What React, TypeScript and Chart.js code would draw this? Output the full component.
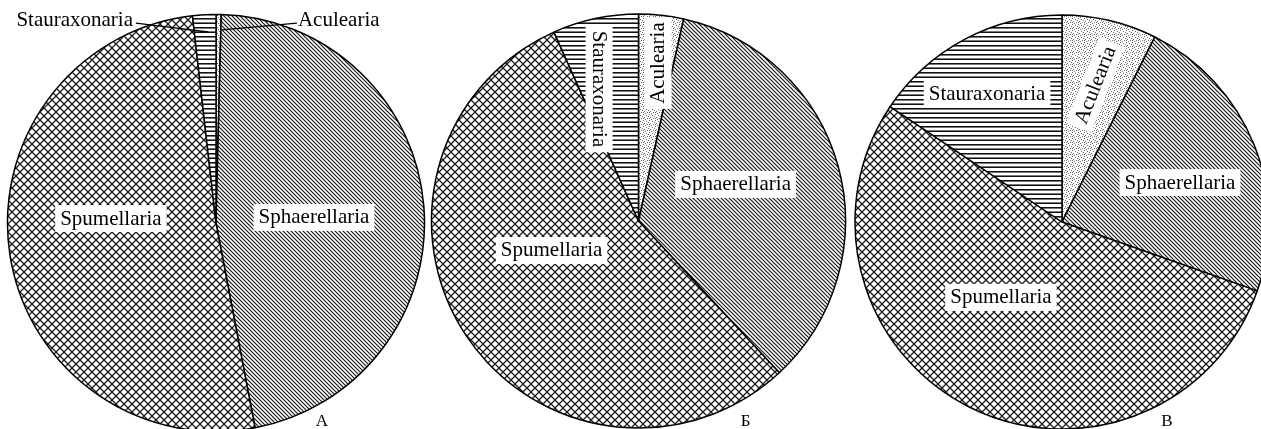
import { useEffect, useRef } from "react";
import { Chart, registerables } from "chart.js";

Chart.register(...registerables);

// ---- data ----
const categories = ["Aculearia", "Sphaerellaria", "Spumellaria", "Stauraxonaria"];
const valuesA = [0.4, 46.6, 51.2, 1.8];
const valuesB = [3.5, 34.6, 55.2, 6.7];
const valuesC = [7.4, 23.0, 54.0, 15.6];
const panelLetters = ["А", "Б", "В"];

// ---- styling / layout (not data) ----
const FONT = "'Liberation Serif', 'Times New Roman', serif";
const LABEL_SIZE = 21;
const LETTER_SIZE = 17;

type LabelSpec = { idx: number; fx: number; fy: number; rot?: number; align?: CanvasTextAlign; box?: boolean };
type Leader = [number, number, number, number];
type Panel = {
  values: number[];
  letter: string;
  left: number;
  width: number;
  cx: number;
  cy: number;
  radius: number;
  labels: LabelSpec[];
  leaders: Leader[];
  letterPos: [number, number];
};

const panels: Panel[] = [
  {
    values: valuesA,
    letter: panelLetters[0],
    left: 0,
    width: 427,
    cx: 216,
    cy: 223,
    radius: 208.5,
    labels: [
      { idx: 2, fx: -0.504, fy: -0.024, box: true },
      { idx: 1, fx: 0.47, fy: -0.029, box: true },
      { idx: 3, fx: -0.398, fy: -0.978, align: "right", box: false },
      { idx: 0, fx: 0.393, fy: -0.978, align: "left", box: false },
    ],
    leaders: [
      [-0.384, -0.959, -0.038, -0.916],
      [0.388, -0.959, 0.029, -0.926],
    ],
    letterPos: [0.508, 0.954],
  },
  {
    values: valuesB,
    letter: panelLetters[1],
    left: 427,
    width: 423,
    cx: 638.5,
    cy: 221,
    radius: 207,
    labels: [
      { idx: 3, fx: -0.188, fy: -0.638, rot: 90, box: true },
      { idx: 0, fx: 0.092, fy: -0.763, rot: -90, box: true },
      { idx: 1, fx: 0.469, fy: -0.179, box: true },
      { idx: 2, fx: -0.42, fy: 0.14, box: true },
    ],
    leaders: [],
    letterPos: [0.517, 0.971],
  },
  {
    values: valuesC,
    letter: panelLetters[2],
    left: 850,
    width: 411,
    cx: 1062,
    cy: 222,
    radius: 207,
    labels: [
      { idx: 3, fx: -0.362, fy: -0.623, box: true },
      { idx: 0, fx: 0.159, fy: -0.662, rot: -68.5, box: true },
      { idx: 1, fx: 0.57, fy: -0.193, box: true },
      { idx: 2, fx: -0.295, fy: 0.362, box: true },
    ],
    leaders: [],
    letterPos: [0.507, 0.966],
  },
];

const HEIGHT = 429;

function makePattern(kind: string): CanvasPattern | string {
  const c = document.createElement("canvas");
  const ctx = c.getContext("2d");
  if (!ctx) return "#ccc";
  if (kind === "cross") {
    c.width = 8;
    c.height = 8;
    ctx.fillStyle = "#fff";
    ctx.fillRect(0, 0, 8, 8);
    ctx.strokeStyle = "#1a1a1a";
    ctx.lineWidth = 1.25;
    ctx.beginPath();
    ctx.moveTo(-1, -1);
    ctx.lineTo(9, 9);
    ctx.moveTo(9, -1);
    ctx.lineTo(-1, 9);
    ctx.stroke();
  } else if (kind === "diag") {
    c.width = 4;
    c.height = 4;
    ctx.fillStyle = "#fff";
    ctx.fillRect(0, 0, 4, 4);
    ctx.strokeStyle = "#151515";
    ctx.lineWidth = 1.15;
    ctx.beginPath();
    ctx.moveTo(-1, -1);
    ctx.lineTo(5, 5);
    ctx.moveTo(-1, 3);
    ctx.lineTo(1, 5);
    ctx.moveTo(3, -1);
    ctx.lineTo(5, 1);
    ctx.stroke();
  } else if (kind === "horiz") {
    c.width = 4;
    c.height = 9;
    ctx.fillStyle = "#fff";
    ctx.fillRect(0, 0, 4, 9);
    ctx.fillStyle = "#111";
    ctx.fillRect(0, 0, 4, 1);
    ctx.fillRect(0, 5, 4, 1);
    ctx.fillStyle = "#777";
    ctx.fillRect(0, 1, 4, 1);
    ctx.fillRect(0, 4, 4, 1);
  } else {
    c.width = 6;
    c.height = 6;
    ctx.fillStyle = "#fff";
    ctx.fillRect(0, 0, 6, 6);
    ctx.fillStyle = "#6e6e6e";
    const dots = [
      [0, 0], [3, 1], [1, 3], [4, 4], [5, 2], [2, 5], [0, 4],
    ];
    dots.forEach(([x, y]) => ctx.fillRect(x, y, 1, 1));
  }
  const p = ctx.createPattern(c, "repeat");
  return p || "#ccc";
}

function makeLabelPlugin(panel: Panel) {
  return {
    id: "pieLabels",
    afterDatasetsDraw(chart: any) {
      const meta = chart.getDatasetMeta(0);
      const arc = meta.data[0];
      if (!arc) return;
      const cx = arc.x;
      const cy = arc.y;
      const R = arc.outerRadius;
      const ctx: CanvasRenderingContext2D = chart.ctx;
      ctx.save();
      ctx.strokeStyle = "#000";
      ctx.lineWidth = 1.3;
      panel.leaders.forEach(([x1, y1, x2, y2]) => {
        ctx.beginPath();
        ctx.moveTo(cx + x1 * R, cy + y1 * R);
        ctx.lineTo(cx + x2 * R, cy + y2 * R);
        ctx.stroke();
      });
      ctx.font = `${LABEL_SIZE}px ${FONT}`;
      ctx.textBaseline = "middle";
      panel.labels.forEach((l) => {
        const text = categories[l.idx];
        const w = ctx.measureText(text).width;
        const align = l.align || "center";
        ctx.save();
        ctx.translate(cx + l.fx * R, cy + l.fy * R);
        ctx.rotate(((l.rot || 0) * Math.PI) / 180);
        let x0 = -w / 2;
        if (align === "left") x0 = 0;
        if (align === "right") x0 = -w;
        if (l.box) {
          ctx.fillStyle = "#fff";
          ctx.fillRect(x0 - 5, -13, w + 10, 27);
        }
        ctx.fillStyle = "#000";
        ctx.textAlign = "left";
        ctx.fillText(text, x0, 1);
        ctx.restore();
      });
      ctx.font = `${LETTER_SIZE}px ${FONT}`;
      ctx.fillStyle = "#000";
      ctx.textAlign = "center";
      ctx.fillText(panel.letter, cx + panel.letterPos[0] * R, cy + panel.letterPos[1] * R);
      ctx.restore();
    },
  };
}

function PiePanel({ panel }: { panel: Panel }) {
  const ref = useRef<HTMLCanvasElement | null>(null);
  useEffect(() => {
    if (!ref.current) return;
    const localCx = panel.cx - panel.left;
    const dx = 2 * localCx - panel.width;
    const dy = 2 * panel.cy - HEIGHT;
    const padding = {
      left: Math.max(dx, 0),
      right: Math.max(-dx, 0),
      top: Math.max(dy, 0),
      bottom: Math.max(-dy, 0),
    };
    const patterns = [makePattern("dots"), makePattern("diag"), makePattern("cross"), makePattern("horiz")];
    const chart = new Chart(ref.current, {
      type: "pie",
      data: {
        labels: categories,
        datasets: [
          {
            data: panel.values,
            backgroundColor: patterns as any,
            borderColor: "#000",
            borderWidth: 1.5,
            radius: panel.radius,
            clip: false,
          } as any,
        ],
      },
      options: {
        responsive: false,
        animation: false,
        events: [],
        layout: { padding },
        plugins: {
          legend: { display: false },
          tooltip: { enabled: false },
        },
      },
      plugins: [makeLabelPlugin(panel)],
    });
    return () => chart.destroy();
  }, [panel]);
  return (
    <canvas
      ref={ref}
      width={panel.width}
      height={HEIGHT}
      style={{ position: "absolute", left: panel.left, top: 0, width: panel.width, height: HEIGHT }}
    />
  );
}

export default function App() {
  return (
    <div
      style={{
        position: "fixed",
        left: 0,
        top: 0,
        width: 1261,
        height: HEIGHT,
        overflow: "hidden",
        background: "#fff",
      }}
    >
      {panels.map((p, i) => (
        <PiePanel key={i} panel={p} />
      ))}
    </div>
  );
}
